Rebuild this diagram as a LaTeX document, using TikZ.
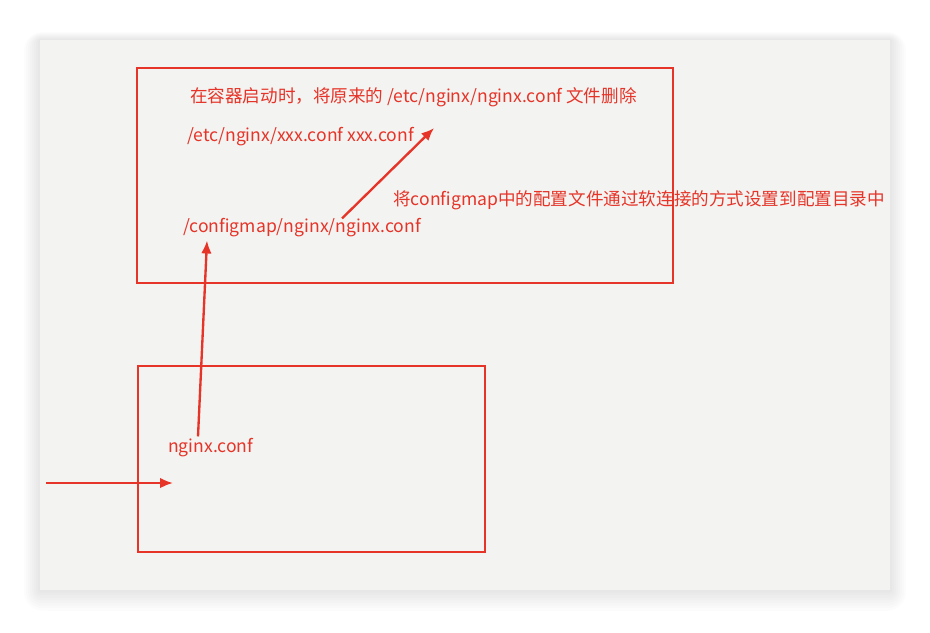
\documentclass[tikz,border=0pt]{standalone}
\usepackage{fontspec}
\setmainfont{Noto Sans CJK SC}
\usepackage{tikz}
\usetikzlibrary{calc,positioning,arrows.meta}
\definecolor{ink}{RGB}{230,52,40}
\definecolor{panel}{RGB}{243,243,241}
\tikzset{
  box/.style={draw=ink,line width=2.5pt},
  lbl/.style={text=ink,inner sep=0pt,anchor=west,font=\fontsize{15}{17}\selectfont},
  arr/.style={draw=ink,line width=2pt,-{Latex[length=11pt,width=9pt]}},
}

\begin{document}
\begin{tikzpicture}[x=0.03cm,y=-0.03cm]
  \useasboundingbox (0,0) rectangle (930,632);
  \fill[white] (0,0) rectangle (930,632);
  % soft shadow under the panel
  \foreach \d in {2,4,...,16}
    \fill[black,opacity=0.012,rounded corners=\d] (40-\d,40-\d/2) rectangle (890+\d,590+\d*1.3);
  \fill[panel] (40,40) rectangle (890,590);

  \draw[box] (137,68) rectangle (673,283);
  \draw[box] (138,366) rectangle (485,552);

  \node[lbl] (del)  at (190,97)  {在容器启动时，将原来的 /etc/nginx/nginx.conf 文件删除};
  \node[lbl] (xxx)  at (187,137) {/etc/nginx/xxx.conf xxx.conf};
  \node[lbl] (cfg)  at (183,228) {/configmap/nginx/nginx.conf};
  \node[lbl] (note) at (393,200) {将configmap中的配置文件通过软连接的方式设置到配置目录中};
  \node[lbl] (src)  at (168,448) {nginx.conf};

  \coordinate (in)    at (46,483);
  \coordinate (inTip) at (173,483);

  \draw[arr] ($(src.north west)+(30,-2)$) -- ($(cfg.south west)+(24,3)$);
  \draw[arr] ($(cfg.north west)+(159,0)$) -- ($(xxx.east)+(20,-9)$);
  \draw[arr] (in) -- (inTip);
\end{tikzpicture}
\end{document}
